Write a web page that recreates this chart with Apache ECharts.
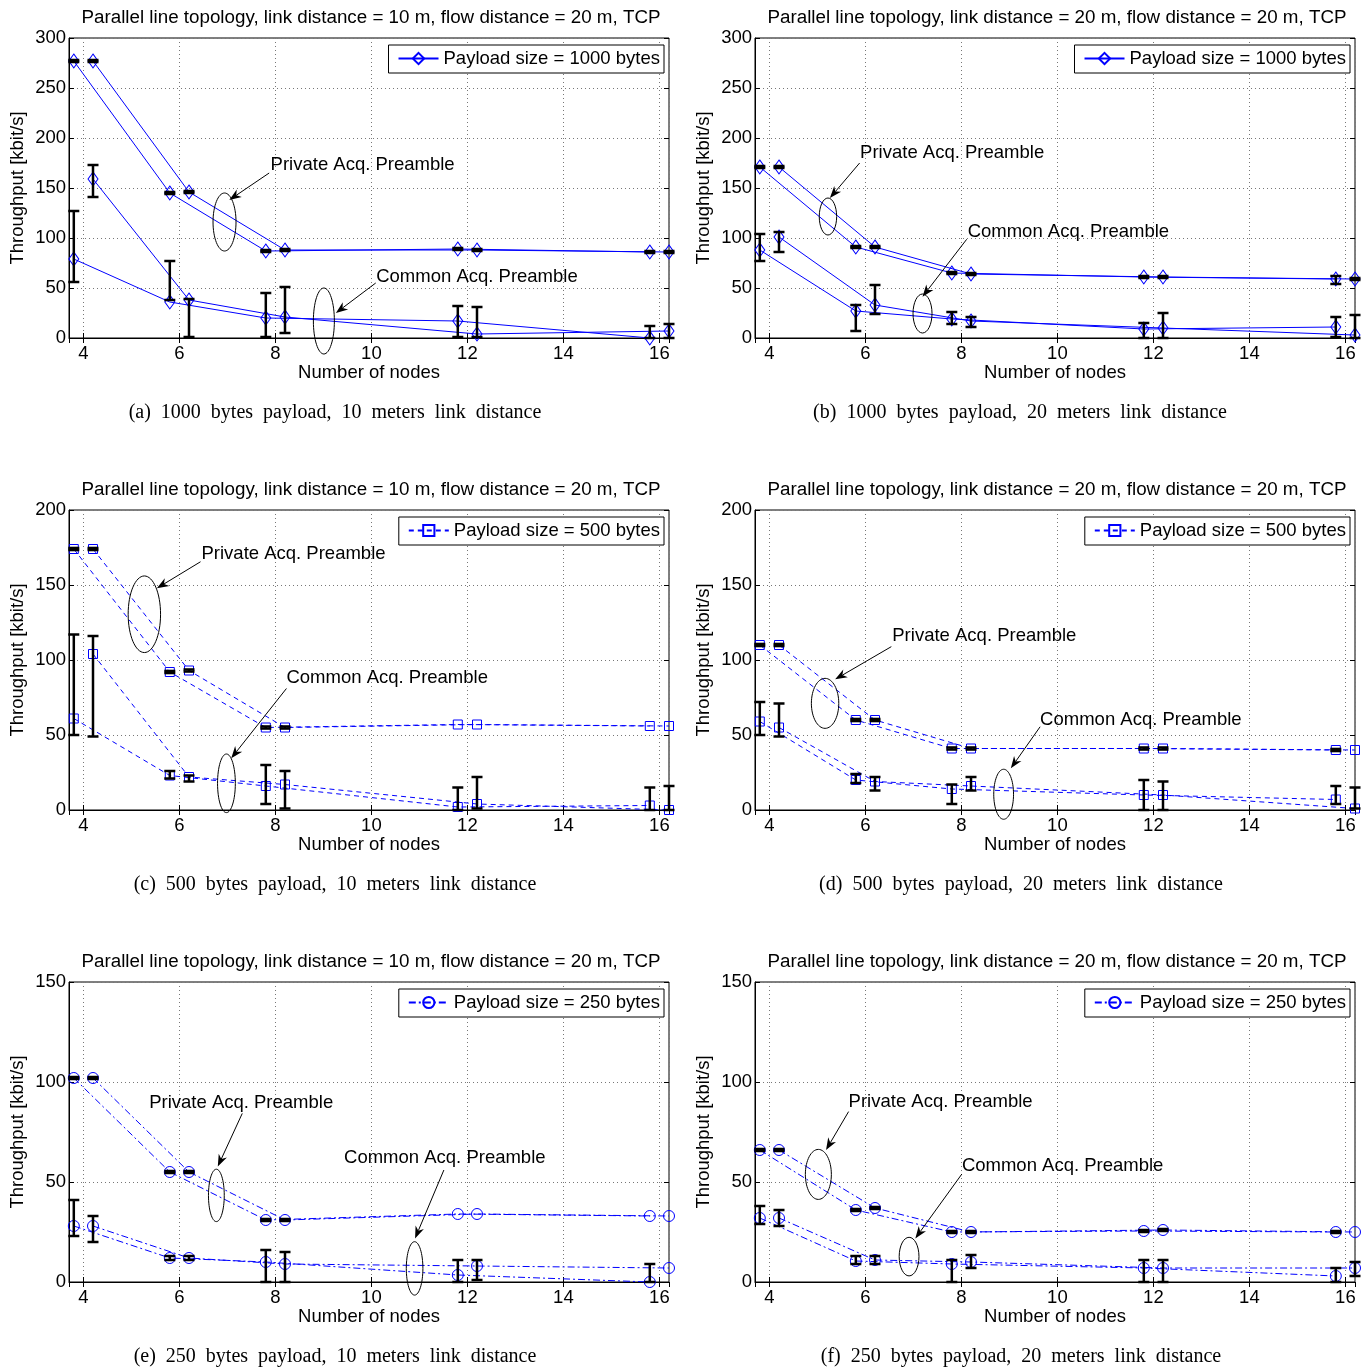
<!DOCTYPE html>
<html>
<head>
<meta charset="utf-8">
<script src="https://cdn.jsdelivr.net/npm/echarts@6/dist/echarts.min.js"></script>
<style>html,body{margin:0;padding:0;background:#fff}#main{width:1367px;height:1369px}</style>
</head>
<body>
<div id="main"></div>
<script>
var chartDom = document.getElementById('main');
var myChart = echarts.init(chartDom);
var option;

// number of nodes; every curve is drawn 0.2 left / right of it
const nodes = [4, 6, 8, 12, 16];

// (a) 1000 bytes, 10 m
const a_priv1 = [277, 145, 87, 89, 86];
const a_priv1Err = [[276, 278], [144, 146], [86, 88], [88, 90], [85, 87]];
const a_priv2 = [277, 146, 88, 88, 86];
const a_priv2Err = [[276, 278], [145, 147], [87, 89], [87, 89], [85, 87]];
const a_com1 = [79, 36, 20, 17, 0];
const a_com1Err = [[56, 127], [38, 77], [1, 45], [1, 32], [0, 12]];
const a_com2 = [159, 38, 21, 4, 7];
const a_com2Err = [[141, 173], [1, 39], [5, 51], [1, 31], [0, 14]];

// (b) 1000 bytes, 20 m
const b_priv1 = [171, 91, 65, 61, 59];
const b_priv1Err = [[170, 172], [90, 92], [64, 66], [60, 62], [54, 62]];
const b_priv2 = [171, 91, 64, 61, 59];
const b_priv2Err = [[170, 172], [90, 92], [63, 65], [60, 62], [58, 60]];
const b_com1 = [88, 27, 19, 9, 11];
const b_com1Err = [[77, 104], [7, 33], [14, 26], [0, 15], [1, 21]];
const b_com2 = [101, 33, 17, 10, 3];
const b_com2Err = [[86, 106], [24, 53], [11, 21], [0, 25], [0, 23]];

// (c) 500 bytes, 10 m
const c_priv1 = [174, 92, 55, 57, 56];
const c_priv1Err = [[173.3, 174.7], [91.3, 92.7], [54.3, 55.7], null, null];
const c_priv2 = [174, 93, 55, 57, 56];
const c_priv2Err = [[173.3, 174.7], [92.3, 93.7], [54.3, 55.7], null, null];
const c_com1 = [61, 23, 16, 2, 3];
const c_com1Err = [[50, 117], [21, 26], [4, 30], [0, 15], [0, 15]];
const c_com2 = [104, 22, 17, 4, 0];
const c_com2Err = [[49, 116], [19, 23], [1, 26], [1, 22], [0, 16]];

// (d) 500 bytes, 20 m
const d_priv1 = [110, 60, 41, 41, 40];
const d_priv1Err = [[109.3, 110.7], [59.3, 60.7], [40.3, 41.7], [40.3, 41.7], [39.3, 40.7]];
const d_priv2 = [110, 60, 41, 41, 40];
const d_priv2Err = [[109.3, 110.7], [59.3, 60.7], [40.3, 41.7], [40.3, 41.7], null];
const d_com1 = [59, 20, 14, 10, 7];
const d_com1Err = [[50, 72], [18, 24], [4, 17], [0, 20], [4, 16]];
const d_com2 = [55, 19, 16, 10, 1];
const d_com2Err = [[49, 71], [13, 22], [13, 22], [0, 19], [1, 15]];

// (e) 250 bytes, 10 m
const e_priv1 = [102, 55, 31, 34, 33];
const e_priv1Err = [[101.5, 102.5], [54.5, 55.5], [30.5, 31.5], null, null];
const e_priv2 = [102, 55, 31, 34, 33];
const e_priv2Err = [[101.5, 102.5], [54.5, 55.5], [30.5, 31.5], null, null];
const e_com1 = [28, 12, 10, 3.5, 0];
const e_com1Err = [[23, 41], [11, 13], [0, 16], [0, 11], [0, 9]];
const e_com2 = [28, 12, 9, 8, 7];
const e_com2Err = [[20, 33], [11, 13], [0, 15], [1, 11], null];

// (f) 250 bytes, 20 m
const f_priv1 = [66, 36, 25, 25.5, 25];
const f_priv1Err = [[65.5, 66.5], [35.5, 36.5], [24.5, 25.5], [25, 26], [24.5, 25.5]];
const f_priv2 = [66, 37, 25, 26, 25];
const f_priv2Err = [[65.5, 66.5], [36.5, 37.5], [24.5, 25.5], [25.5, 26.5], null];
const f_com1 = [32, 10.5, 9, 7, 3];
const f_com1Err = [[29, 38], [9, 13], [0, 11], [0, 11], [0, 7]];
const f_com2 = [32, 11, 10, 7, 7];
const f_com2Err = [[28, 36], [9, 13], [7, 13.5], [0, 11], [3, 10]];

const titles = [
  'Parallel line topology, link distance = 10 m, flow distance = 20 m, TCP',
  'Parallel line topology, link distance = 20 m, flow distance = 20 m, TCP',
  'Parallel line topology, link distance = 10 m, flow distance = 20 m, TCP',
  'Parallel line topology, link distance = 20 m, flow distance = 20 m, TCP',
  'Parallel line topology, link distance = 10 m, flow distance = 20 m, TCP',
  'Parallel line topology, link distance = 20 m, flow distance = 20 m, TCP'
];
const captions = [
  '(a)  1000  bytes  payload,  10  meters  link  distance',
  '(b)  1000  bytes  payload,  20  meters  link  distance',
  '(c)  500  bytes  payload,  10  meters  link  distance',
  '(d)  500  bytes  payload,  20  meters  link  distance',
  '(e)  250  bytes  payload,  10  meters  link  distance',
  '(f)  250  bytes  payload,  20  meters  link  distance'
];
const legendNames = ['Payload size = 1000 bytes', 'Payload size = 1000 bytes',
  'Payload size = 500 bytes', 'Payload size = 500 bytes',
  'Payload size = 250 bytes', 'Payload size = 250 bytes'];
const yMax = [300, 300, 200, 200, 150, 150];

const curves = [
  [[a_priv1, a_priv1Err], [a_priv2, a_priv2Err], [a_com1, a_com1Err], [a_com2, a_com2Err]],
  [[b_priv1, b_priv1Err], [b_priv2, b_priv2Err], [b_com1, b_com1Err], [b_com2, b_com2Err]],
  [[c_priv1, c_priv1Err], [c_priv2, c_priv2Err], [c_com1, c_com1Err], [c_com2, c_com2Err]],
  [[d_priv1, d_priv1Err], [d_priv2, d_priv2Err], [d_com1, d_com1Err], [d_com2, d_com2Err]],
  [[e_priv1, e_priv1Err], [e_priv2, e_priv2Err], [e_com1, e_com1Err], [e_com2, e_com2Err]],
  [[f_priv1, f_priv1Err], [f_priv2, f_priv2Err], [f_com1, f_com1Err], [f_com2, f_com2Err]]
];

// annotations (data coords of each panel): ellipse, text, arrow
const notes = [
  [{t: 'Private Acq. Preamble', ex: 6.94, ey: 116, rx: 11.5, ry: 29, tx: 7.9, ty: 173, x0: 7.87, y0: 165, x1: 7.04, y1: 138},
   {t: 'Common Acq. Preamble', ex: 9.01, ey: 17, rx: 10.5, ry: 33, tx: 10.1, ty: 61, x0: 10.09, y0: 55, x1: 9.26, y1: 25}],
  [{t: 'Private Acq. Preamble', ex: 5.22, ey: 121.5, rx: 8.7, ry: 18.5, tx: 5.89, ty: 185, x0: 5.88, y0: 175, x1: 5.26, y1: 140},
   {t: 'Common Acq. Preamble', ex: 7.19, ey: 24.5, rx: 9.5, ry: 19.5, tx: 8.13, ty: 106, x0: 8.11, y0: 98.7, x1: 7.19, y1: 41.3}],
  [{t: 'Private Acq. Preamble', ex: 5.27, ey: 130.5, rx: 16.2, ry: 38.3, tx: 6.46, ty: 171, x0: 6.44, y0: 165.5, x1: 5.53, y1: 147.8},
   {t: 'Common Acq. Preamble', ex: 6.98, ey: 17.8, rx: 8.9, ry: 29.3, tx: 8.23, ty: 88.2, x0: 8.23, y0: 81, x1: 7.08, y1: 34.5}],
  [{t: 'Private Acq. Preamble', ex: 5.16, ey: 71.1, rx: 13.7, ry: 25, tx: 6.56, ty: 116, x0: 6.54, y0: 108.9, x1: 5.37, y1: 87.1},
   {t: 'Common Acq. Preamble', ex: 8.88, ey: 10.5, rx: 9.9, ry: 25, tx: 9.64, ty: 60, x0: 9.64, y0: 55.5, x1: 9.03, y1: 27.8}],
  [{t: 'Private Acq. Preamble', ex: 6.77, ey: 43.3, rx: 7.9, ry: 26.2, tx: 5.37, ty: 89.3, x0: 7.31, y0: 84.3, x1: 6.8, y1: 57.7},
   {t: 'Common Acq. Preamble', ex: 10.9, ey: 6.8, rx: 8.3, ry: 26.7, tx: 9.43, ty: 61.8, x0: 11.51, y0: 56, x1: 10.91, y1: 21.8}],
  [{t: 'Private Acq. Preamble', ex: 5.02, ey: 53.8, rx: 13, ry: 25, tx: 5.65, ty: 90.2, x0: 5.65, y0: 85.2, x1: 5.18, y1: 66},
   {t: 'Common Acq. Preamble', ex: 6.91, ey: 12.7, rx: 9.9, ry: 19.3, tx: 8.01, ty: 58, x0: 8.01, y0: 54, x1: 7.04, y1: 21.8}]
];

const SANS = '"Liberation Sans", Arial, Helvetica, sans-serif';
const SERIF = '"Liberation Serif", "Times New Roman", serif';
const FS = 18.5;
const BLUE = '#0000ff';

const gridLeft = [69, 755, 69, 755, 69, 755];
const gridTop = [38, 38, 510, 510, 982, 982];
const capX = [335, 1020, 335, 1021, 335, 1021];
const markStyle = [
  {symbol: 'diamond', size: [10, 14], dash: 'solid'},
  {symbol: 'diamond', size: [10, 14], dash: 'solid'},
  {symbol: 'rect', size: 9, dash: [5, 4]},
  {symbol: 'rect', size: 9, dash: [5, 4]},
  {symbol: 'circle', size: 11, dash: [7, 3, 2, 3]},
  {symbol: 'circle', size: 11, dash: [7, 3, 2, 3]}
];
const shift = [-0.2, 0.2, -0.2, 0.2];

function errorSeries(i, xs, err) {
  const data = [];
  xs.forEach(function (x, k) {
    if (err[k]) data.push([x, err[k][0], err[k][1]]);
  });
  return {
    type: 'custom', xAxisIndex: i, yAxisIndex: i, z: 4, silent: true,
    data: data,
    encode: {x: 0, y: [1, 2]},
    renderItem: function (params, api) {
      const lo = api.coord([api.value(0), api.value(1)]);
      const hi = api.coord([api.value(0), api.value(2)]);
      const w = 5.5;
      const st = function () { return {stroke: '#000', lineWidth: 2.5}; };
      return {type: 'group', children: [
        {type: 'line', shape: {x1: lo[0], y1: lo[1], x2: hi[0], y2: hi[1]}, style: st()},
        {type: 'line', shape: {x1: lo[0] - w, y1: lo[1], x2: lo[0] + w, y2: lo[1]}, style: st()},
        {type: 'line', shape: {x1: hi[0] - w, y1: hi[1], x2: hi[0] + w, y2: hi[1]}, style: st()}
      ]};
    }
  };
}

function noteSeries(i) {
  const list = notes[i];
  return {
    type: 'custom', xAxisIndex: i, yAxisIndex: i, z: 6, silent: true,
    data: list.map(function (n) { return [n.ex, n.ey]; }),
    encode: {x: 0, y: 1},
    renderItem: function (params, api) {
      const n = list[params.dataIndex];
      const c = api.coord([n.ex, n.ey]);
      const p0 = api.coord([n.x0, n.y0]);
      const p1 = api.coord([n.x1, n.y1]);
      const tp = api.coord([n.tx, n.ty]);
      const dx = p1[0] - p0[0], dy = p1[1] - p0[1];
      const len = Math.sqrt(dx * dx + dy * dy);
      const ux = dx / len, uy = dy / len;
      const hl = 12, hw = 4.5;
      const bx = p1[0] - ux * hl, by = p1[1] - uy * hl;
      const nx = p1[0] - ux * hl * 0.7, ny = p1[1] - uy * hl * 0.7;
      return {type: 'group', children: [
        {type: 'ellipse', shape: {cx: c[0], cy: c[1], rx: n.rx, ry: n.ry},
          style: {fill: null, stroke: '#000', lineWidth: 1}},
        {type: 'line', shape: {x1: p0[0], y1: p0[1], x2: nx, y2: ny},
          style: {stroke: '#000', lineWidth: 1}},
        {type: 'polygon', shape: {points: [[p1[0], p1[1]], [bx - uy * hw, by + ux * hw], [nx, ny], [bx + uy * hw, by - ux * hw]]},
          style: {fill: '#000'}},
        {type: 'text', x: tp[0], y: tp[1],
          style: {text: n.t, font: FS + 'px ' + SANS, fill: '#000', align: 'left', verticalAlign: 'middle', textVerticalAlign: 'middle'}}
      ]};
    }
  };
}

const grid = [], xAxis = [], yAxis = [], series = [], legend = [], title = [];

for (let i = 0; i < 6; i++) {
  grid.push({left: gridLeft[i], top: gridTop[i], width: 600, height: 300,
    show: true, borderColor: '#000', borderWidth: 1, backgroundColor: '#fff', outerBoundsMode: 'none'});
  xAxis[i] = {
    gridIndex: i, type: 'value', min: 3.7, max: 16.2, splitNumber: 6,
    name: 'Number of nodes', nameLocation: 'middle', nameGap: 25,
    nameTextStyle: {fontSize: FS, color: '#000', fontFamily: SANS},
    axisLine: {show: true, lineStyle: {color: '#000', width: 1}},
    axisTick: {show: true, inside: true, length: 5, lineStyle: {color: '#000'}},
    axisLabel: {color: '#000', fontSize: FS, fontFamily: SANS, margin: 6,
      showMinLabel: false, showMaxLabel: false,
      formatter: function (v) { return Number.isInteger(v) ? String(v) : ''; }},
    splitLine: {show: true, lineStyle: {type: [1, 3], color: '#777', width: 1}}
  };
  xAxis[i + 6] = {
    gridIndex: i, type: 'value', position: 'top', min: 3.7, max: 16.2, splitNumber: 6,
    axisLine: {show: false}, axisLabel: {show: false}, splitLine: {show: false},
    axisTick: {show: true, inside: true, length: 5, lineStyle: {color: '#000'}}
  };
  yAxis[i] = {
    gridIndex: i, type: 'value', min: 0, max: yMax[i], interval: 50,
    name: 'Throughput [kbit/s]', nameLocation: 'middle', nameGap: 42,
    nameTextStyle: {fontSize: FS, color: '#000', fontFamily: SANS},
    axisLine: {show: true, lineStyle: {color: '#000', width: 1}},
    axisTick: {show: true, inside: true, length: 5, lineStyle: {color: '#000'}},
    axisLabel: {color: '#000', fontSize: FS, fontFamily: SANS, margin: 3},
    splitLine: {show: true, lineStyle: {type: [1, 3], color: '#777', width: 1}}
  };
  yAxis[i + 6] = {
    gridIndex: i, type: 'value', position: 'right', min: 0, max: yMax[i], interval: 50,
    axisLine: {show: false}, axisLabel: {show: false}, splitLine: {show: false},
    axisTick: {show: true, inside: true, length: 5, lineStyle: {color: '#000'}}
  };

  const ms = markStyle[i];
  curves[i].forEach(function (cv, j) {
    const xs = nodes.map(function (n) { return n + shift[j]; });
    series.push({
      name: j === 0 ? legendNames[i] : 'curve-' + i + '-' + j,
      type: 'line', xAxisIndex: i, yAxisIndex: i, z: 3,
      data: xs.map(function (x, k) { return [x, cv[0][k]]; }),
      symbol: ms.symbol, symbolSize: ms.size,
      showAllSymbol: true, animation: false,
      lineStyle: {color: BLUE, width: 1, type: ms.dash},
      itemStyle: {color: 'rgba(255,255,255,0)', borderColor: BLUE, borderWidth: 1},
      emphasis: {disabled: true}
    });
    series.push(errorSeries(i, xs, cv[1]));
  });
  series.push(noteSeries(i));

  legend.push({
    data: [legendNames[i]], top: gridTop[i] + 7, right: i % 2 === 0 ? 703 : 17,
    orient: 'horizontal', selectedMode: false,
    borderColor: '#000', borderWidth: 1, borderRadius: 0, backgroundColor: '#fff',
    padding: [4, 4, 5, 9], itemWidth: 40, itemHeight: 14,
    textStyle: {fontSize: FS, color: '#000', fontFamily: SANS}
  });

  title.push({
    text: titles[i], left: gridLeft[i] + 302, top: gridTop[i] - 30, textAlign: 'center', padding: 0,
    textStyle: {fontSize: 18.8, fontWeight: 'normal', color: '#000', fontFamily: SANS}
  });
  title.push({
    text: captions[i], left: capX[i], top: gridTop[i] + 365, textAlign: 'center', padding: 0,
    textStyle: {fontSize: 20, fontWeight: 'normal', color: '#000', fontFamily: SERIF}
  });
}

option = {
  backgroundColor: '#fff',
  animation: false,
  title: title,
  legend: legend,
  grid: grid,
  xAxis: xAxis,
  yAxis: yAxis,
  series: series
};

option && myChart.setOption(option);
</script>
</body>
</html>
